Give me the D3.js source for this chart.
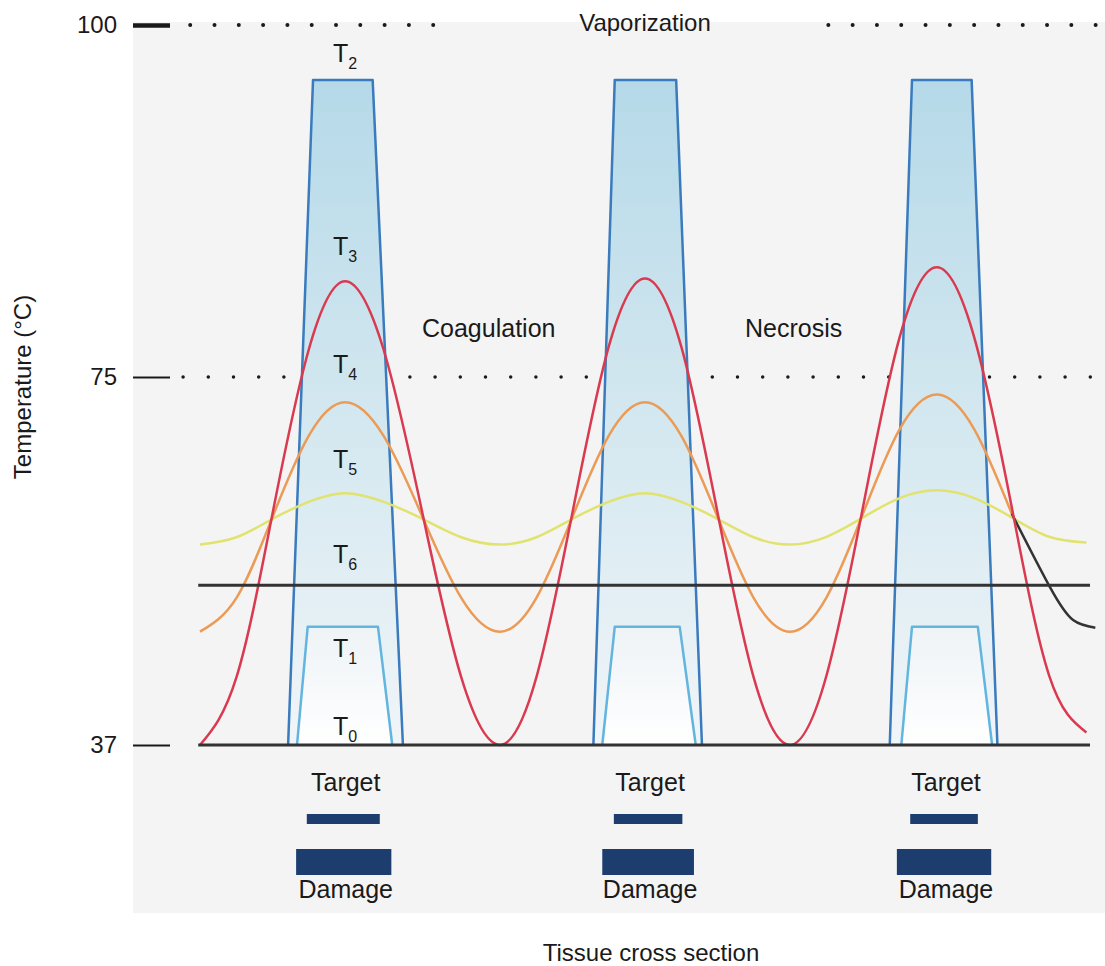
<!DOCTYPE html>
<html>
<head>
<meta charset="utf-8">
<script src="https://cdn.jsdelivr.net/npm/d3@7"></script>
<style>
body { margin: 0; background: #fff; }
svg { display: block; font-family: "Liberation Sans", Arial, sans-serif; }
</style>
</head>
<body>
<svg id="chart" width="1105" height="966"></svg>
<script>
// position across the tissue section (0-100) where the curves were sampled
var position = [0, 4.1, 8.15, 12.2, 16.3, 20.65, 25.0, 29.35, 33.7, 37.8, 41.85, 45.9, 50.0,
    54.1, 58.15, 62.2, 66.3, 70.4, 74.5, 78.6, 82.8, 87.0, 91.2, 95.4, 99.6];

// temperature curves (deg C)
var tempT3 = [37, 44.0, 60.9, 76.9, 81.8, 76.9, 60.9, 44.0, 37, 44.0, 61.0, 77.1, 82.0,
    77.1, 61.0, 44.0, 37, 44.2, 61.6, 77.8, 82.8, 77.8, 61.6, 44.2, 38.3];
var tempT4 = [48.7, 52.2, 60.55, 68.9, 72.4, 68.9, 60.55, 52.2, 48.7, 52.2, 60.55, 68.9, 72.4,
    68.9, 60.55, 52.2, 48.7, 52.25, 60.9, 69.6, 73.2, 69.6, 60.9, null, null];
var tempT5 = [57.7, 58.45, 60.35, 62.1, 63.0, 62.1, 60.35, 58.45, 57.7, 58.45, 60.35, 62.1, 63.0,
    62.1, 60.35, 58.45, 57.7, 58.5, 60.5, 62.5, 63.3, 62.5, 60.5, 58.5, 57.9];
// dark tail at the right edge
var tailPos = [91.2, 95.5, 98.1, 100.6];
var tailTemp = [60.9, 53.3, 49.9, 49.1];

var baseTemp = 37;
var t6Temp = 53.5;
var t2Top = 96.1;
var t1Top = 49.2;

// laser spots: outer (T2) and inner (T1) trapezoids
var outerBottomL = [9.9, 44.2, 77.5];
var outerTopL = [12.7, 46.6, 80.0];
var outerTopR = [19.4, 53.5, 86.7];
var outerBottomR = [22.8, 56.4, 89.6];
var innerBottomL = [10.9, 45.2, 78.8];
var innerTopL = [12.1, 46.6, 80.0];
var innerTopR = [20.0, 53.9, 87.4];
var innerBottomR = [21.6, 55.7, 89.0];

// target and damage widths
var targetStart = [12.0, 46.5, 79.8];
var targetEnd = [20.2, 54.2, 87.4];
var damageStart = [10.8, 45.2, 78.3];
var damageEnd = [21.5, 55.5, 88.9];

var tickValues = [37, 75, 100];
var vaporSegments = [[-1.1, 26.3], [70.6, 100.9]];
var coagSegment = [-1.9, 100.2];

var svg = d3.select("#chart");

var x = d3.scaleLinear().domain([0, 100]).range([200, 1090]);
var y = d3.scaleLinear().domain([37, 75, 100]).range([745, 377, 25]);

var defs = svg.append("defs");
var gOuter = defs.append("linearGradient").attr("id", "outerFill")
    .attr("gradientUnits", "userSpaceOnUse")
    .attr("x1", 0).attr("x2", 0).attr("y1", y(t2Top)).attr("y2", y(baseTemp));
gOuter.append("stop").attr("offset", 0).attr("stop-color", "#b5d9e9");
gOuter.append("stop").attr("offset", 0.45).attr("stop-color", "#d0e6ef");
gOuter.append("stop").attr("offset", 1).attr("stop-color", "#f0f5f8");
var gInner = defs.append("linearGradient").attr("id", "innerFill")
    .attr("gradientUnits", "userSpaceOnUse")
    .attr("x1", 0).attr("x2", 0).attr("y1", y(t1Top)).attr("y2", y(baseTemp));
gInner.append("stop").attr("offset", 0).attr("stop-color", "#eef3f6");
gInner.append("stop").attr("offset", 1).attr("stop-color", "#ffffff");

// grey panel
svg.append("rect")
    .attr("x", 133).attr("y", 22)
    .attr("width", 972).attr("height", 891)
    .attr("fill", "#f5f4f5");

// dotted reference lines
vaporSegments.forEach(function (s) {
    svg.append("line")
        .attr("x1", x(s[0])).attr("x2", x(s[1]))
        .attr("y1", y(100)).attr("y2", y(100))
        .attr("stroke", "#1a1a1a").attr("stroke-width", 4)
        .attr("stroke-linecap", "round")
        .attr("stroke-dasharray", "0 24.3");
});
svg.append("line")
    .attr("x1", x(coagSegment[0])).attr("x2", x(coagSegment[1]))
    .attr("y1", y(75)).attr("y2", y(75))
    .attr("stroke", "#1a1a1a").attr("stroke-width", 3.5)
    .attr("stroke-linecap", "round")
    .attr("stroke-dasharray", "0 25.2");

// y axis ticks
var axis = d3.axisLeft(y)
    .tickValues(tickValues)
    .tickSize(37)
    .tickPadding(16)
    .tickFormat(d3.format("d"));
var gAxis = svg.append("g")
    .attr("transform", "translate(170,0)")
    .call(axis);
gAxis.select(".domain").remove();
gAxis.attr("font-family", null).attr("font-size", null);
gAxis.selectAll(".tick line")
    .attr("stroke", "#1a1a1a")
    .attr("stroke-width", function (d) { return d === 100 ? 4.5 : 2; });
gAxis.selectAll(".tick text")
    .attr("fill", "#1a1a1a")
    .style("font-size", "24px");

// trapezoids
var line = d3.line()
    .x(function (d) { return x(d[0]); })
    .y(function (d) { return y(d[1]); });

var spots = d3.range(outerBottomL.length);

svg.selectAll(".outer")
    .data(spots)
    .enter().append("path")
    .attr("class", "outer")
    .attr("d", function (i) {
        return line([[outerBottomL[i], baseTemp], [outerTopL[i], t2Top], [outerTopR[i], t2Top], [outerBottomR[i], baseTemp]]);
    })
    .attr("fill", "url(#outerFill)")
    .attr("stroke", "#3a7bbd")
    .attr("stroke-width", 2.5)
    .attr("stroke-linejoin", "round");

svg.selectAll(".inner")
    .data(spots)
    .enter().append("path")
    .attr("class", "inner")
    .attr("d", function (i) {
        return line([[innerBottomL[i], baseTemp], [innerTopL[i], t1Top], [innerTopR[i], t1Top], [innerBottomR[i], baseTemp]]);
    })
    .attr("fill", "url(#innerFill)")
    .attr("stroke", "#62b5de")
    .attr("stroke-width", 2.5)
    .attr("stroke-linejoin", "round");

// temperature curves
var curve = d3.line()
    .defined(function (d) { return d[1] != null; })
    .x(function (d) { return x(d[0]); })
    .y(function (d) { return y(d[1]); })
    .curve(d3.curveNatural);

function pairs(xs, ys) {
    return xs.map(function (v, i) { return [v, ys[i]]; });
}

svg.append("path").attr("d", curve(pairs(position, tempT5)))
    .attr("fill", "none").attr("stroke", "#e0e36f").attr("stroke-width", 2.5);
svg.append("path").attr("d", curve(pairs(position, tempT4)))
    .attr("fill", "none").attr("stroke", "#eb9b55").attr("stroke-width", 2.5);
svg.append("path").attr("d", curve(pairs(tailPos, tailTemp)))
    .attr("fill", "none").attr("stroke", "#333").attr("stroke-width", 2.5);
svg.append("path").attr("d", curve(pairs(position, tempT3)))
    .attr("fill", "none").attr("stroke", "#d93a4f").attr("stroke-width", 2.5);

// horizontal T6 and T0 lines
[t6Temp, baseTemp].forEach(function (t) {
    svg.append("line")
        .attr("x1", x(-0.2)).attr("x2", x(100))
        .attr("y1", y(t)).attr("y2", y(t))
        .attr("stroke", "#333").attr("stroke-width", 3);
});

// target and damage bars
svg.selectAll(".target")
    .data(spots)
    .enter().append("rect")
    .attr("class", "target")
    .attr("x", function (i) { return x(targetStart[i]); })
    .attr("width", function (i) { return x(targetEnd[i]) - x(targetStart[i]); })
    .attr("y", 814).attr("height", 10)
    .attr("fill", "#1d3d6e");

svg.selectAll(".damage")
    .data(spots)
    .enter().append("rect")
    .attr("class", "damage")
    .attr("x", function (i) { return x(damageStart[i]); })
    .attr("width", function (i) { return x(damageEnd[i]) - x(damageStart[i]); })
    .attr("y", 849).attr("height", 26)
    .attr("fill", "#1d3d6e");

svg.selectAll(".targetLabel")
    .data(spots)
    .enter().append("text")
    .attr("x", function (i) { return (x(damageStart[i]) + x(damageEnd[i])) / 2 + 2; })
    .attr("y", 791)
    .attr("text-anchor", "middle")
    .attr("font-size", 25)
    .attr("fill", "#1a1a1a")
    .text("Target");

svg.selectAll(".damageLabel")
    .data(spots)
    .enter().append("text")
    .attr("x", function (i) { return (x(damageStart[i]) + x(damageEnd[i])) / 2 + 2; })
    .attr("y", 898)
    .attr("text-anchor", "middle")
    .attr("font-size", 25)
    .attr("fill", "#1a1a1a")
    .text("Damage");

// T labels on the first spot
var tLabels = [["2", 62], ["3", 255], ["4", 373], ["5", 468], ["6", 563], ["1", 657], ["0", 735]];
tLabels.forEach(function (t) {
    var txt = svg.append("text")
        .attr("x", x(16.3))
        .attr("y", t[1])
        .attr("text-anchor", "middle")
        .attr("font-size", 25)
        .attr("fill", "#1a1a1a");
    txt.append("tspan").text("T");
    txt.append("tspan").attr("font-size", 16).attr("dy", 7).text(t[0]);
});

// region labels
svg.append("text").attr("x", 645).attr("y", 31).attr("text-anchor", "middle")
    .attr("font-size", 24).attr("fill", "#1a1a1a").text("Vaporization");
svg.append("text").attr("x", 422).attr("y", 337)
    .attr("font-size", 25).attr("fill", "#1a1a1a").text("Coagulation");
svg.append("text").attr("x", 745).attr("y", 337)
    .attr("font-size", 25).attr("fill", "#1a1a1a").text("Necrosis");

// axis titles
svg.append("text")
    .attr("transform", "translate(31,387) rotate(-90)")
    .attr("text-anchor", "middle")
    .attr("font-size", 24).attr("fill", "#1a1a1a")
    .text("Temperature (°C)");
svg.append("text")
    .attr("x", 651).attr("y", 961)
    .attr("text-anchor", "middle")
    .attr("font-size", 24).attr("fill", "#1a1a1a")
    .text("Tissue cross section");
</script>
</body>
</html>
